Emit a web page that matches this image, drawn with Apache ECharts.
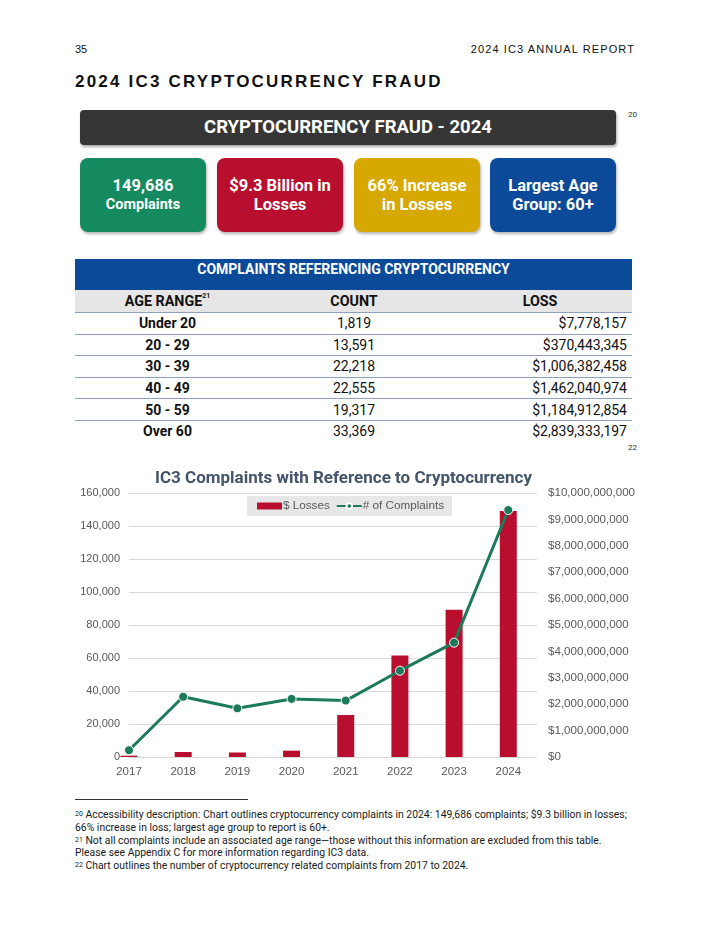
<!DOCTYPE html>
<html>
<head>
<meta charset="utf-8">
<script src="https://cdn.jsdelivr.net/npm/echarts@6/dist/echarts.min.js"></script>
<style>
  html, body { margin: 0; padding: 0; background: #fff; }
  body { width: 712px; height: 949px; position: relative; overflow: hidden; font-family: Roboto, "Liberation Sans", sans-serif; color: #111; }
  .abs { position: absolute; }
  .pnum { left: 75px; top: 43px; font-size: 11px; font-family: "Liberation Sans", Arial, sans-serif; }
  .rpt { right: 77px; top: 43px; font-size: 11px; letter-spacing: 1.1px; font-family: "Liberation Sans", Arial, sans-serif; }
  .h1 { left: 75px; top: 72px; font-size: 17px; font-weight: bold; letter-spacing: 2.2px; font-family: "Liberation Sans", Arial, sans-serif; }
  .banner { left: 80px; top: 110px; width: 536px; height: 35px; background: #363636; border-radius: 4px; box-shadow: 1px 2px 3px rgba(0,0,0,0.35); color: #fff; font-weight: bold; font-size: 18.5px; text-align: center; line-height: 35px; }
  .fn { font-size: 8px; color: #333; }
  .card { top: 158px; width: 126px; height: 74px; border-radius: 8px; box-shadow: 1px 2px 3px rgba(0,0,0,0.3); color: #fff; font-weight: bold; display: flex; flex-direction: column; justify-content: center; align-items: center; text-align: center; font-size: 16.5px; line-height: 19.5px; }
  table { position: absolute; left: 75px; top: 259px; width: 557px; border-collapse: collapse; font-size: 14px; }
  td, th { padding: 0; }
  .thead td { background: #0b4a99; color: #fff; font-weight: bold; height: 31px; text-align: center; vertical-align: top; padding-top: 2px; box-sizing: border-box; font-size: 14px; }
  .thead2 td { background: #e6e6e6; font-weight: bold; height: 22px; text-align: center; border-bottom: 1px solid #8ea0bc; font-size: 14.3px; }
  .row td { height: 20.6px; border-bottom: 1px solid #8ea0bc; }
  .row.last td { border-bottom: none; }
  .c1 { text-align: center; font-weight: bold; width: 185px; }
  .c2 { text-align: center; width: 188px; }
  .c3 { text-align: right; padding-right: 5px !important; }
  sup { font-size: 7px; vertical-align: top; position: relative; top: -1px; }
  .notes { left: 75px; top: 809px; width: 555px; font-size: 10.4px; line-height: 12.8px; color: #1a1a1a; }
  .rule { left: 75px; top: 799px; width: 173px; height: 1px; background: #333; }
</style>
</head>
<body>
<div class="abs pnum">35</div>
<div class="abs rpt">2024 IC3 ANNUAL REPORT</div>
<div class="abs h1">2024 IC3 CRYPTOCURRENCY FRAUD</div>
<div class="abs banner">CRYPTOCURRENCY FRAUD - 2024</div>
<div class="abs fn" style="left:628px; top:110px;">20</div>

<div class="abs card" style="left:80px; background:#168a5f;"><div>149,686</div><div style="font-size:14.5px; line-height:18px;">Complaints</div></div>
<div class="abs card" style="left:217px; background:#b80f2e;"><div>$9.3 Billion in</div><div>Losses</div></div>
<div class="abs card" style="left:354px; background:#d6a800;"><div>66% Increase</div><div>in Losses</div></div>
<div class="abs card" style="left:490px; background:#0b4a99;"><div>Largest Age</div><div>Group: 60+</div></div>

<table id="tbl"></table>
<div class="abs fn" style="left:628px; top:443px;">22</div>

<div id="chart" class="abs" style="left:0; top:455px; width:712px; height:340px;"></div>

<div class="abs rule"></div>
<div class="abs notes">
<div><sup>20</sup> Accessibility description: Chart outlines cryptocurrency complaints in 2024: 149,686 complaints; $9.3 billion in losses; 66% increase in loss; largest age group to report is 60+.</div>
<div><sup>21</sup> Not all complaints include an associated age range—those without this information are excluded from this table. Please see Appendix C for more information regarding IC3 data.</div>
<div><sup>22</sup> Chart outlines the number of cryptocurrency related complaints from 2017 to 2024.</div>
</div>

<script>
// ---- table data ----
const ageRanges = ['Under 20', '20 - 29', '30 - 39', '40 - 49', '50 - 59', 'Over 60'];
const ageCounts = ['1,819', '13,591', '22,218', '22,555', '19,317', '33,369'];
const ageLosses = ['$7,778,157', '$370,443,345', '$1,006,382,458', '$1,462,040,974', '$1,184,912,854', '$2,839,333,197'];

// ---- chart data ----
const years = [2017, 2018, 2019, 2020, 2021, 2022, 2023, 2024];
const lossesUSD = [50000000, 190000000, 170000000, 240000000, 1590000000, 3840000000, 5580000000, 9320000000];
const complaints = [4100, 36500, 29500, 35200, 34200, 52300, 69300, 149686];
const leftTicks = { min: 0, max: 160000, interval: 20000 };
const rightTicks = { min: 0, max: 10000000000, interval: 1000000000 };

// build table
const tbl = document.getElementById('tbl');
let html = '<tr class="thead"><td colspan="3">COMPLAINTS REFERENCING CRYPTOCURRENCY</td></tr>';
html += '<tr class="thead2"><td class="c1">AGE RANGE<sup>21</sup></td><td class="c2">COUNT</td><td>LOSS</td></tr>';
ageRanges.forEach((a, i) => {
  html += '<tr class="row' + (i === ageRanges.length - 1 ? ' last' : '') + '"><td class="c1">' + a + '</td><td class="c2">' + ageCounts[i] + '</td><td class="c3">' + ageLosses[i] + '</td></tr>';
});
tbl.innerHTML = html;

// chart
const chart = echarts.init(document.getElementById('chart'), null, { renderer: 'canvas' });
const fmtNum = v => v.toLocaleString('en-US');
const font = '"Liberation Sans", Arial, sans-serif';
chart.setOption({
  animation: false,
  textStyle: { fontFamily: font },
  title: {
    text: 'IC3 Complaints with Reference to Cryptocurrency',
    left: 150, top: 10,
    textStyle: { fontSize: 17, fontWeight: 'bold', color: '#44546a', fontFamily: 'Roboto, "Liberation Sans", sans-serif' }
  },
  legend: {
    left: 247, top: 41,
    backgroundColor: '#e7e7e7',
    padding: [4, 8, 4, 10],
    itemGap: 6,
    itemWidth: 25, itemHeight: 7,
    textStyle: { color: '#595959', fontSize: 11.7, padding: [0, 0, 0, -4] },
    data: [
      { name: '$ Losses', icon: 'rect' },
      { name: '# of Complaints' }
    ]
  },
  grid: { left: 129, top: 38, width: 408, height: 264, containLabel: false },
  xAxis: {
    type: 'value',
    min: 2017, max: 2024.53, interval: 1,
    axisLine: { show: true, lineStyle: { color: '#d9d9d9' } },
    axisTick: { show: false },
    splitLine: { show: false },
    axisLabel: {
      color: '#595959', fontSize: 11.5, margin: 9,
      formatter: v => (Number.isInteger(v) && years.indexOf(v) >= 0) ? String(v) : '',
      showMaxLabel: false
    }
  },
  yAxis: [
    {
      type: 'value', ...leftTicks,
      axisLine: { show: false }, axisTick: { show: false },
      splitLine: { lineStyle: { color: '#d9d9d9' } },
      axisLabel: { color: '#595959', fontSize: 11, margin: 9, formatter: v => fmtNum(v) }
    },
    {
      type: 'value', ...rightTicks, position: 'right',
      axisLine: { show: false }, axisTick: { show: false },
      splitLine: { show: false },
      axisLabel: { color: '#595959', fontSize: 11.6, margin: 11, formatter: v => '$' + fmtNum(v) }
    }
  ],
  series: [
    {
      name: '$ Losses', type: 'bar', yAxisIndex: 1, barWidth: 17,
      itemStyle: { color: '#b80f2e' },
      data: years.map((y, i) => [y, lossesUSD[i]])
    },
    {
      name: '# of Complaints', type: 'line', yAxisIndex: 0,
      symbol: 'circle', symbolSize: 9,
      lineStyle: { color: '#1b7a58', width: 3 },
      itemStyle: { color: '#1b7a58', borderColor: '#ffffff', borderWidth: 1 },
      data: years.map((y, i) => [y, complaints[i]])
    }
  ]
});
</script>
</body>
</html>
